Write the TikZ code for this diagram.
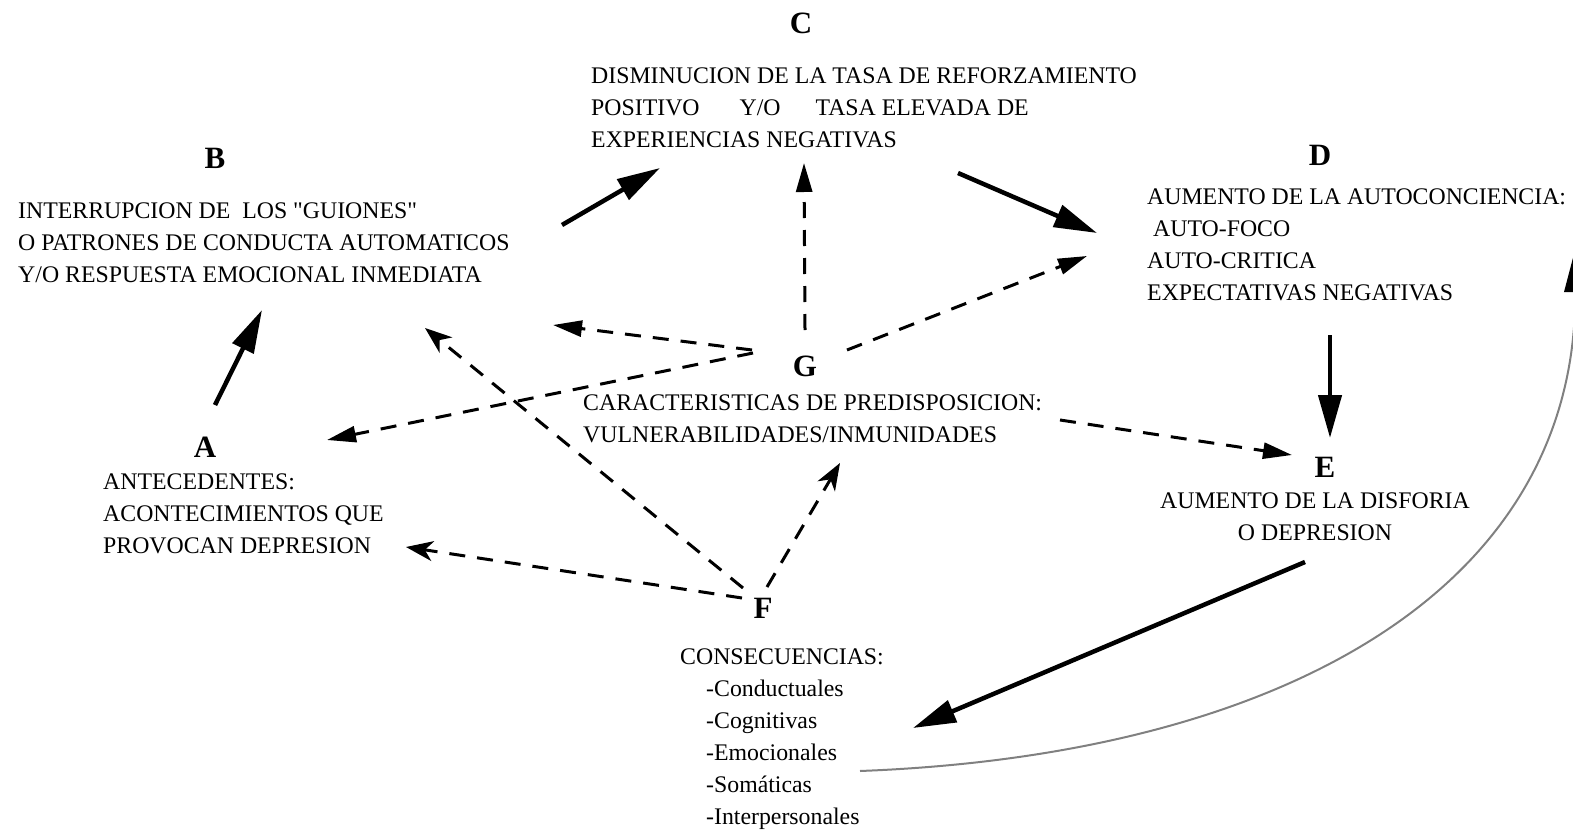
\documentclass[tikz,border=0pt]{standalone}
\usepackage{tikz}
\usepackage{xcolor}
\usepackage{fontspec}
\setmainfont{Liberation Serif}
\usetikzlibrary{arrows.meta,calc}
\definecolor{curveGray}{RGB}{128,128,128}

\begin{document}
\begin{tikzpicture}[x=1pt, y=-1pt]
    \tikzstyle{letter} = [inner sep=0pt, font=\fontsize{31}{31}\selectfont\bfseries]
    \tikzstyle{txt} = [inner sep=0pt, align=left, anchor=north west, font=\fontsize{23.8}{32}\selectfont]
    \tikzstyle{mainarrow} = [-{Triangle[length=43pt, width=23pt]}, line width=4.5pt]
    \tikzstyle{dasharrow} = [-{Triangle[length=29pt, width=16pt]}, line width=3pt, dash pattern=on 16pt off 12pt]
    \tikzstyle{dashstealth} = [-{Stealth[length=27pt, width=20pt, inset=8pt]}, line width=3pt, dash pattern=on 16pt off 12pt]

    \useasboundingbox (0,0) rectangle (1573,832);

    \node[letter] (lblC) at (801,23) {C};
    \node[txt] (txtC) at (591,68) {DISMINUCION DE LA TASA DE REFORZAMIENTO\\POSITIVO\hspace{40pt}Y/O\hspace{35pt}TASA ELEVADA DE\\EXPERIENCIAS NEGATIVAS};

    \node[letter] (lblB) at (215,158) {B};
    \node[txt] (txtB) at (18,203) {INTERRUPCION DE\ \ LOS \textquotedbl GUIONES\textquotedbl\\O PATRONES DE CONDUCTA AUTOMATICOS\\Y/O RESPUESTA EMOCIONAL INMEDIATA};

    \node[letter] (lblD) at (1320,155) {D};
    \node[txt] (txtD) at (1147,189) {AUMENTO DE LA AUTOCONCIENCIA:\\\hspace*{6pt}AUTO-FOCO\\AUTO-CRITICA\\EXPECTATIVAS NEGATIVAS};

    \node[letter] (lblG) at (805,366) {G};
    \node[txt] (txtG) at (583,395) {CARACTERISTICAS DE PREDISPOSICION:\\VULNERABILIDADES/INMUNIDADES};

    \node[letter] (lblA) at (205,447) {A};
    \node[txt] (txtA) at (103,474) {ANTECEDENTES:\\ACONTECIMIENTOS QUE\\PROVOCAN DEPRESION};

    \node[letter] (lblE) at (1325,467) {E};
    \node[txt, anchor=north, align=center] (txtE) at (1315,493) {AUMENTO DE LA DISFORIA\\O DEPRESION};

    \node[letter] (lblF) at (763,608) {F};
    \node[txt] (txtF) at (680,649) {CONSECUENCIAS:\\\hspace*{26pt}-Conductuales\\\hspace*{26pt}-Cognitivas\\\hspace*{26pt}-Emocionales\\\hspace*{26pt}-Somáticas\\\hspace*{26pt}-Interpersonales};

    \draw[mainarrow] ($(lblA)+(10,-42)$) -- ($(txtB.north west)+(244,107)$);
    \draw[mainarrow] ($(txtB.north west)+(544,22)$) -- ($(txtC.north west)+(69,100)$);
    \draw[mainarrow] ($(txtC.north west)+(367,105)$) -- ($(txtD.north west)+(-50,44)$);
    \draw[mainarrow] ($(txtD.north west)+(183,146)$) -- ($(lblE)+(5,-29)$);
    \draw[mainarrow] ($(txtE.north)+(-10,69)$) -- ($(txtF.north west)+(233,79)$);
    \draw[curveGray, line width=2pt, -{Triangle[length=42pt, width=22pt, color=black]}] ($(txtF.north west)+(180,122)$) .. controls (1280,755) and (1577,590) .. ($(txtD.north west)+(428,61)$);

    \draw[dasharrow] ($(lblG)+(-53,-16)$) -- ($(txtB.north west)+(535,122)$);
    \draw[dasharrow] ($(lblG)+(-52,-13)$) -- ($(txtA.north west)+(224,-34)$);
    \draw[dasharrow] ($(lblG)+(0,-36)$) -- ($(txtC.north west)+(213,95)$);
    \draw[dasharrow] ($(lblG)+(42,-16)$) -- ($(txtD.north west)+(-60,67)$);
    \draw[dasharrow] ($(txtG.north west)+(477,25)$) -- ($(lblE)+(-33,-12)$);

    \draw[dashstealth] ($(lblF)+(-20,-20)$) -- ($(txtB.north west)+(407,125)$);
    \draw[dashstealth] ($(lblF)+(4,-21)$) -- ($(txtG.north west)+(257,68)$);
    \draw[dashstealth] ($(lblF)+(-21,-10)$) -- ($(txtA.north west)+(303,73)$);
\end{tikzpicture}
\end{document}
